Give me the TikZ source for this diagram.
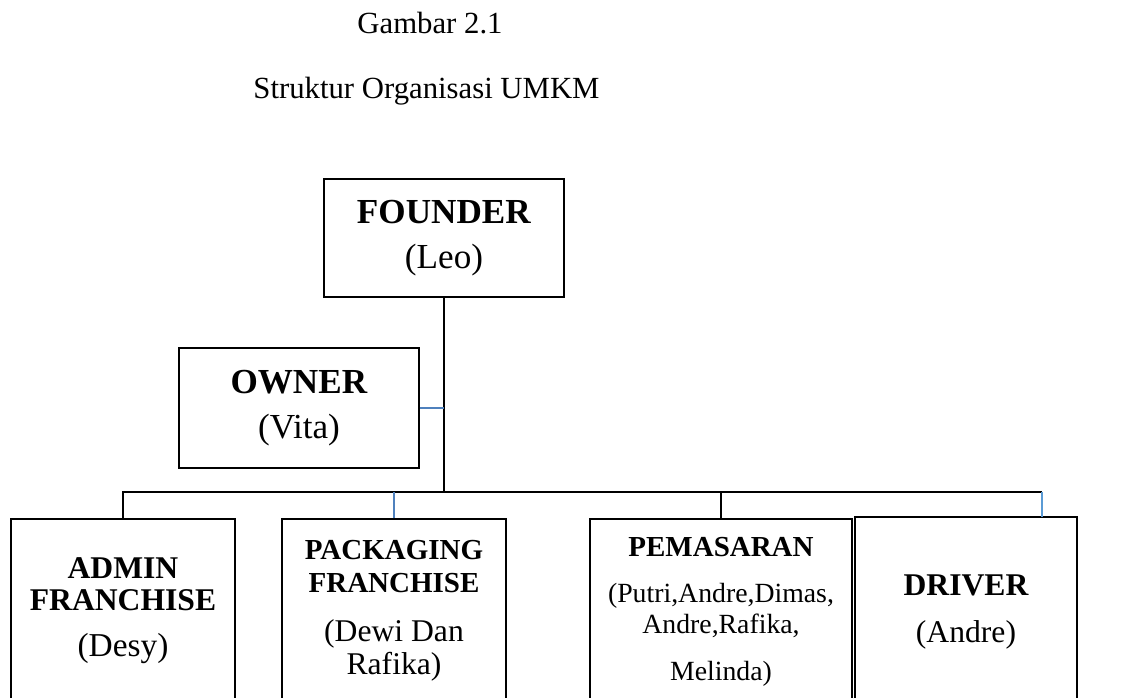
\documentclass[tikz,border=0pt]{standalone}
\usepackage{fontspec}
\setmainfont{Liberation Serif}
\definecolor{linkblue}{RGB}{79,129,189}
\definecolor{lightlink}{RGB}{91,155,213}
\newcommand{\hd}[2]{{\fontsize{#1}{#1}\selectfont\bfseries #2}}
\begin{document}
\begin{tikzpicture}
    [x=0.02cm,y=-0.02cm,inner sep=0pt,
     box/.style={draw,line width=1.1pt,align=center},
     trunk/.style={line width=1.2pt},
     branch/.style={line width=0.7pt}]
    \useasboundingbox (0,0) rectangle (1125,697);
    \clip (0,0) rectangle (1125,697);
    \node (caption) at (430,33) [anchor=base,font=\fontsize{17.5}{21}\selectfont] {Gambar 2.1};
    \node (title) at (426.5,98.5) [anchor=base,font=\fontsize{17.5}{21}\selectfont] {Struktur Organisasi UMKM};
    % top of the chart
    \node (founder) at (444,238) [box,minimum width=4.8cm,minimum height=2.36cm,
      font=\fontsize{20}{25.6}\selectfont] {\textbf{FOUNDER}\\(Leo)};
    \node (owner) at (299,408) [box,minimum width=4.8cm,minimum height=2.4cm,
      font=\fontsize{20}{25.6}\selectfont] {\textbf{OWNER}\\(Vita)};
    % divisions
    \node (admin) at (123,610.5) [box,minimum width=4.48cm,minimum height=3.66cm,
      font=\fontsize{19}{18.2}\selectfont] {\hd{18}{ADMIN}\\\hd{18}{FRANCHISE}\\[8pt](Desy)};
    \node (packaging) at (394,611) [box,minimum width=4.48cm,minimum height=3.68cm,
      font=\fontsize{18}{18.8}\selectfont] {\hd{16.5}{PACKAGING}\\\hd{16.5}{FRANCHISE}\\[9.1pt](Dewi Dan\\Rafika)};
    \node (pemasaran) at (721,612) [box,minimum width=5.24cm,minimum height=3.72cm,
      font=\fontsize{15.8}{17.6}\selectfont] {\hd{16.5}{PEMASARAN}\\[8.5pt](Putri,Andre,Dimas,\\Andre,Rafika,\\[9.1pt]Melinda)};
    \node (driver) at (966,612) [box,line width=1.4pt,minimum width=4.44cm,minimum height=3.8cm,
      font=\fontsize{18}{26.7}\selectfont] {\hd{18}{DRIVER}\\(Andre)};
    \coordinate (bus) at (444,492);
    \coordinate (drvdrop) at (1042,517);
    \draw [trunk] (founder) to (bus);
    \draw [linkblue,line width=0.9pt] (owner) to (owner -| bus);
    \draw [trunk] (admin) |- (bus);
    \draw [branch] (bus) to (bus -| drvdrop);
    \draw [branch,linkblue] (packaging) to (packaging |- bus);
    \draw [branch] (pemasaran) to (pemasaran |- bus);
    \draw [branch,lightlink] (drvdrop) to (drvdrop |- bus);
\end{tikzpicture}
\end{document}
